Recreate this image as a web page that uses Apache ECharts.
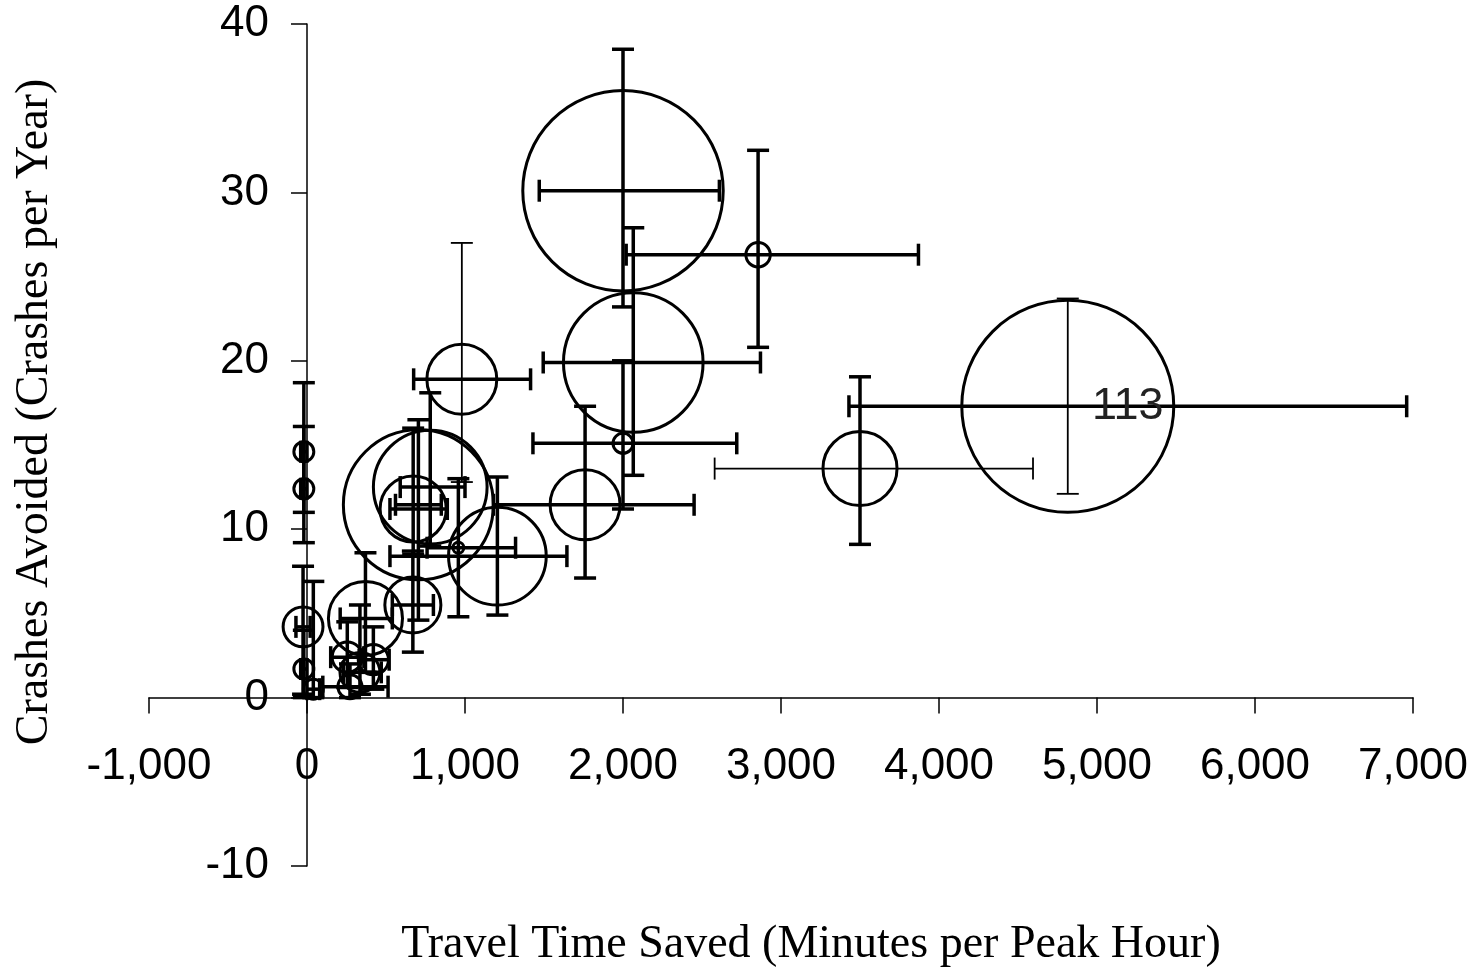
<!DOCTYPE html>
<html>
<head>
<meta charset="utf-8">
<script src="https://cdn.jsdelivr.net/npm/echarts@6/dist/echarts.min.js"></script>
<style>
  html, body { margin: 0; padding: 0; background: #fff; }
  #main { width: 1476px; height: 974px; }
</style>
</head>
<body>
<div id="main"></div>
<script>
// travel time saved (minutes per peak hour), crashes avoided (per year), bubble weight
var travelTime = [2000, 2855, 2065, 2000, 1760, 3500, 4815, 980, 705, 780, 672, 1205, 670, 370, -25, -20, -20, -20, 40, 255, 335, 420, 272, 958];
var crashes    = [30.1, 26.3, 19.9, 15.1, 11.45, 13.6, 17.3, 18.9, 11.45, 12.5, 11.2, 8.4, 5.5, 4.7, 4.2, 14.6, 12.4, 1.7, 0.5, 2.4, 1.5, 2.25, 0.65, 8.9];
var weight     = [101, 1.5, 49, 1.0, 12.3, 13.8, 113, 12.3, 56.6, 32.5, 11, 24, 7.9, 13.8, 4.0, 1.0, 1.0, 1.0, 1.0, 2.3, 4.0, 2.3, 1.45, 0.3];
// error bar ends
var timeLo  = [1470, 2020, 1495, 1430, 1180, 2580, 3430, 675, 560, 590, 525, 525, 540, 210, -70, -40, -40, -40, 0, 150, 230, 330, 100, 760];
var timeHi  = [2610, 3870, 2870, 2720, 2450, 4595, 6960, 1415, 850, 1000, 888, 1645, 800, 540, 20, 0, 0, 0, 80, 360, 470, 520, 513, 1320];
var crashLo = [23.2, 20.8, 13.2, 11.2, 7.1, 9.1, 12.1, 12.8, 4.6, 9.0, 8.5, 4.9, 2.7, 1.5, 0.2, 11.0, 9.2, 0.0, 0.0, 0.6, 0.2, 0.5, 0.0, 4.8];
var crashHi = [38.5, 32.5, 27.9, 20.0, 17.3, 19.05, 23.7, 27.0, 16.5, 18.1, 16.0, 13.1, 8.7, 8.6, 7.8, 18.7, 16.1, 4.0, 6.9, 4.5, 5.5, 4.2, 2.0, 13.0];

// which bars are drawn with the thin pen
var thinTimeBars = [5];
var thinCrashBars = [6, 7];

var xTicks = { min: -1000, max: 7000, step: 1000 };
var yTicks = { min: -10, max: 40, step: 10 };

var myChart = echarts.init(document.getElementById('main'));

var bubbleData = travelTime.map(function (x, i) { return [x, crashes[i], weight[i]]; });
var barData = travelTime.map(function (x, i) {
    return [x, crashes[i], timeLo[i], timeHi[i], crashLo[i], crashHi[i]];
});
var maxW = Math.max.apply(null, weight);

function fmtThousands(v) {
    var s = String(Math.abs(v)).replace(/\B(?=(\d{3})+(?!\d))/g, ',');
    return (v < 0 ? '-' : '') + s;
}

// axes cross at (0, 0): shift each axis in from the grid edge
var gridW = 1264, gridH = 842;
var xShift = gridW * (0 - xTicks.min) / (xTicks.max - xTicks.min);
var yShift = gridH * (0 - yTicks.min) / (yTicks.max - yTicks.min);

var option = {
    backgroundColor: '#fff',
    animation: false,
    grid: { left: 149, top: 24, width: gridW, height: gridH },
    xAxis: {
        type: 'value',
        min: xTicks.min, max: xTicks.max, interval: xTicks.step,
        offset: -yShift,
        axisLine: { onZero: false, lineStyle: { color: '#000', width: 1.5 } },
        axisTick: { length: 16, lineStyle: { color: '#000', width: 1.5 } },
        splitLine: { show: false },
        axisLabel: {
            margin: 47, color: '#000', fontSize: 44,
            fontFamily: 'Liberation Sans, Arial, sans-serif',
            formatter: fmtThousands
        }
    },
    yAxis: {
        type: 'value',
        min: yTicks.min, max: yTicks.max, interval: yTicks.step,
        offset: -xShift,
        axisLine: { onZero: false, lineStyle: { color: '#000', width: 1.5 } },
        axisTick: { length: 16, lineStyle: { color: '#000', width: 1.5 } },
        splitLine: { show: false },
        axisLabel: {
            margin: 38, color: '#000', fontSize: 44,
            fontFamily: 'Liberation Sans, Arial, sans-serif'
        }
    },
    graphic: [
        {
            type: 'text', x: 811, y: 922,
            style: {
                text: 'Travel Time Saved (Minutes per Peak Hour)',
                font: '46px "Liberation Serif", "Times New Roman", serif',
                fill: '#000', align: 'center', verticalAlign: 'top'
            }
        },
        {
            type: 'text', x: 12, y: 412, rotation: Math.PI / 2,
            style: {
                text: 'Crashes Avoided (Crashes per Year)',
                font: '46px "Liberation Serif", "Times New Roman", serif',
                fill: '#000', align: 'center', verticalAlign: 'top'
            }
        }
    ],
    series: [
        {
            name: 'errors',
            type: 'custom',
            data: barData,
            encode: { x: [0, 2, 3], y: [1, 4, 5] },
            z: 2,
            renderItem: function (params, api) {
                var i = params.dataIndex;
                var x = api.value(0), y = api.value(1);
                var l = api.coord([api.value(2), y]);
                var r = api.coord([api.value(3), y]);
                var b = api.coord([x, api.value(4)]);
                var t = api.coord([x, api.value(5)]);
                var cap = 11;
                var wx = thinTimeBars.indexOf(i) >= 0 ? 1.8 : 3.5;
                var wy = thinCrashBars.indexOf(i) >= 0 ? 1.8 : 3.5;
                var sx = { stroke: '#000', lineWidth: wx };
                var sy = { stroke: '#000', lineWidth: wy };
                return {
                    type: 'group',
                    children: [
                        { type: 'line', shape: { x1: l[0], y1: l[1], x2: r[0], y2: r[1] }, style: sx },
                        { type: 'line', shape: { x1: l[0], y1: l[1] - cap, x2: l[0], y2: l[1] + cap }, style: sx },
                        { type: 'line', shape: { x1: r[0], y1: r[1] - cap, x2: r[0], y2: r[1] + cap }, style: sx },
                        { type: 'line', shape: { x1: b[0], y1: b[1], x2: t[0], y2: t[1] }, style: sy },
                        { type: 'line', shape: { x1: b[0] - cap, y1: b[1], x2: b[0] + cap, y2: b[1] }, style: sy },
                        { type: 'line', shape: { x1: t[0] - cap, y1: t[1], x2: t[0] + cap, y2: t[1] }, style: sy }
                    ]
                };
            }
        },
        {
            name: 'bubbles',
            type: 'scatter',
            data: bubbleData,
            z: 3,
            symbol: 'circle',
            symbolSize: function (v) { return 212 * Math.sqrt(v[2] / 113); },
            itemStyle: { color: 'rgba(0,0,0,0)', borderColor: '#000', borderWidth: 3, opacity: 1 },
            label: {
                show: true,
                position: 'inside',
                offset: [60, 0],
                color: '#222',
                fontSize: 45,
                fontFamily: 'Liberation Sans, Arial, sans-serif',
                formatter: function (p) { return p.value[2] === maxW ? String(p.value[2]) : ''; }
            },
            emphasis: { disabled: true }
        }
    ]
};

myChart.setOption(option);
</script>
</body>
</html>
